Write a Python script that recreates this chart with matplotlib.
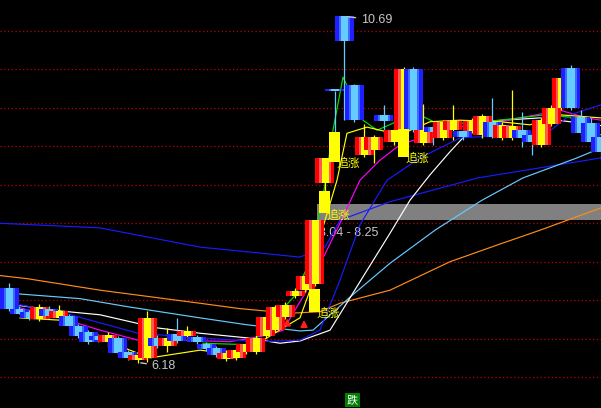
import matplotlib.pyplot as plt
from matplotlib.patches import Rectangle

plt.rcParams['font.family'] = ['Liberation Sans', 'Noto Sans CJK SC', 'DejaVu Sans']

# ---- candles (index 0 = leftmost visible bar) ----
opens = [7.16, 6.89, 6.85, 6.76, 6.89, 6.77, 6.80, 6.67, 6.59, 6.53,
         6.46, 6.51, 6.33, 6.22, 6.25, 6.51, 6.41, 6.56, 6.53, 6.52,
         6.43, 6.38, 6.24, 6.25, 6.33, 6.33, 6.54, 6.61, 6.78, 7.06,
         7.13, 7.21, 8.52, 9.72, 10.69, 9.80, 8.89, 8.95, 9.41, 9.06,
         9.21, 10.01, 9.04, 9.25, 9.11, 9.21, 9.20, 9.20, 9.15, 9.32,
         9.11, 9.11, 9.21, 9.15, 9.02, 9.29, 9.50, 10.02, 9.38, 9.30,
         9.12]
highs = [7.22, 6.92, 6.87, 6.95, 6.93, 6.94, 6.82, 6.69, 6.61, 6.56,
         6.59, 6.54, 6.35, 6.31, 6.86, 6.55, 6.64, 6.77, 6.66, 6.55,
         6.46, 6.40, 6.35, 6.38, 6.48, 6.55, 6.82, 6.94, 6.98, 7.16,
         7.35, 8.04, 8.85, 9.72, 10.69, 9.81, 9.29, 9.15, 9.54, 9.24,
         10.03, 10.03, 9.55, 9.28, 9.34, 9.54, 9.30, 9.37, 9.42, 9.63,
         9.32, 9.73, 9.45, 9.21, 9.37, 9.54, 9.92, 10.06, 9.47, 9.37,
         9.15]
lows = [6.86, 6.82, 6.74, 6.73, 6.77, 6.74, 6.64, 6.51, 6.43, 6.46,
        6.38, 6.29, 6.22, 6.18, 6.20, 6.38, 6.33, 6.44, 6.50, 6.43,
        6.34, 6.26, 6.21, 6.22, 6.30, 6.30, 6.51, 6.59, 6.76, 7.03,
        7.11, 7.19, 8.25, 9.19, 9.34, 9.32, 8.86, 8.78, 9.17, 9.02,
        9.19, 9.19, 9.02, 9.02, 9.08, 9.08, 9.08, 9.17, 9.11, 9.11,
        9.08, 9.08, 8.99, 8.89, 8.99, 9.26, 9.47, 9.47, 9.15, 9.06,
        8.82]
closes = [6.89, 6.82, 6.77, 6.91, 6.80, 6.86, 6.67, 6.54, 6.46, 6.48,
          6.55, 6.31, 6.25, 6.29, 6.77, 6.41, 6.51, 6.47, 6.60, 6.46,
          6.37, 6.29, 6.31, 6.35, 6.43, 6.51, 6.78, 6.91, 6.94, 7.12,
          7.32, 8.04, 8.85, 9.72, 10.37, 9.34, 9.12, 9.12, 9.33, 9.21,
          10.01, 9.21, 9.21, 9.19, 9.32, 9.33, 9.12, 9.33, 9.40, 9.12,
          9.28, 9.27, 9.11, 9.06, 9.34, 9.50, 9.89, 9.50, 9.17, 9.06,
          8.93]

# ---- moving average lines, read as (bar index, price) points ----
ma_orange = [(-0.96, 7.32), (1.78, 7.28), (9.19, 7.13), (19.34, 6.96), (23.4, 6.89),
             (28.48, 6.83), (31.52, 6.85), (33.55, 6.96), (38.63, 7.13), (44.72, 7.50),
             (49.8, 7.73), (53.86, 7.91), (60.05, 8.20)]
ma_lightblue = [(-0.96, 7.13), (1.07, 7.08), (7.16, 7.02), (12.23, 6.91), (19.34, 6.77),
                (24.11, 6.68), (29.49, 6.60), (30.81, 6.61), (34.57, 7.04), (38.63, 7.48),
                (43.2, 7.91), (47.97, 8.30), (52.13, 8.59), (57.62, 8.85), (60.05, 8.98)]
ma_blue_long = [(-0.96, 8.00), (9.19, 7.94), (19.34, 7.69), (29.49, 7.56), (32.03, 7.69),
                (33.55, 8.04), (38.63, 8.28), (47.56, 8.59), (60.05, 8.85)]
ma_blue = [(1.07, 6.94), (5.63, 6.83), (13.05, 6.57), (19.34, 6.51), (25.43, 6.46),
           (29.49, 6.48), (31.52, 6.61), (33.55, 7.26), (35.58, 7.98), (38.33, 8.56),
           (41.68, 8.85), (45.74, 9.11), (49.8, 9.14), (54.57, 9.17), (56.9, 9.41),
           (60.05, 9.54)]
ma_magenta = [(1.07, 6.90), (5.13, 6.77), (9.19, 6.61), (13.05, 6.48), (17.31, 6.48),
              (22.39, 6.46), (26.45, 6.55), (27.77, 6.61), (30.51, 7.20), (33.55, 8.00),
              (35.58, 8.56), (37.61, 8.82), (39.64, 9.02), (44.72, 9.24), (49.8, 9.32),
              (55.89, 9.47), (58.63, 9.37), (60.05, 9.34)]
ma_white = [(1.07, 6.93), (5.13, 6.86), (9.19, 6.81), (12.94, 6.70), (14.97, 6.64),
            (19.34, 6.57), (24.11, 6.51), (27.46, 6.44), (29.49, 6.47), (32.54, 6.61),
            (35.58, 7.24), (38.63, 7.87), (40.66, 8.30), (42.69, 8.63), (44.72, 8.93),
            (46.75, 9.21), (48.78, 9.33), (53.86, 9.37), (56.9, 9.32), (60.05, 9.27)]
ma_yellow = [(1.07, 6.77), (5.13, 6.74), (9.19, 6.51), (12.23, 6.35), (14.27, 6.25),
             (19.34, 6.35), (23.4, 6.29), (27.77, 6.64), (29.49, 6.77), (30.51, 7.13),
             (31.83, 7.95), (33.25, 8.56), (34.26, 9.17), (36.29, 9.25), (39.64, 9.15),
             (42.69, 9.32), (45.74, 9.34), (49.8, 9.32), (52.84, 9.28), (55.89, 9.41),
             (60.05, 9.37)]
ma_green = [(19.65, 6.44), (24.42, 6.42), (28.98, 7.06), (30.51, 7.52), (32.03, 8.50),
            (32.84, 9.21), (33.86, 9.90), (35.89, 9.34), (37.31, 9.21), (38.93, 9.30),
            (40.66, 9.47), (43.71, 9.28), (49.8, 9.34), (54.37, 9.41), (56.9, 9.38),
            (57.92, 9.25), (60.05, 9.15)]

# ---- "追涨" signal sticks (bar index, top, bottom) ----
signal_idx = [31, 32, 33, 40]
signal_top = [7.15, 8.42, 9.19, 9.23]
signal_bot = [6.85, 8.13, 8.80, 8.86]

# red buy arrows (bar index, tip price)
buy_idx = [28.2, 29.9]
buy_tip = [6.80, 6.78]

gap_low, gap_high = 8.04, 8.25
grid_prices = [6.0, 6.5, 7.0, 7.5, 8.0, 8.5, 9.0, 9.5, 10.0, 10.5]

# stripe layouts (pixel widths of the 19 px body) and colours
PX = 1 / 9.85
up_stripes = [(4, '#ff0000'), (2.5, '#ff5a5a'), (7, '#ffff00'), (2.5, '#ff5a5a'), (3, '#ff0000')]
dn_stripes = [(4, '#1f1fff'), (2, '#3a6cff'), (7.5, '#66ccff'), (2, '#3a6cff'), (3.5, '#1f1fff')]

fig = plt.figure(figsize=(6.01, 4.08), dpi=100)
fig.patch.set_facecolor('black')
ax = fig.add_axes([0, 0, 1, 1])
ax.set_facecolor('black')
ax.set_xlim(-0.964, 60.05)
ax.set_ylim(5.598, 10.903)
ax.axis('off')

# dotted grid
ax.hlines(grid_prices, -1, 61, colors='#c00000', linestyles=(0, (1, 2)), lw=0.9, zorder=1)

# unfilled gap band
ax.add_patch(Rectangle((31.22, gap_low), 40, gap_high - gap_low,
                       facecolor='#808080', edgecolor='none', zorder=2))
ax.text(31.4, 7.87, '8.04 - 8.25', color='#c8c8c8', fontsize=9, va='center', ha='left', zorder=3)

# moving averages
for pts, col in [(ma_blue_long, '#1a1aff'), (ma_orange, '#ff8c1a'), (ma_lightblue, '#66ccff'),
                 (ma_white, '#ffffff'), (ma_magenta, '#ff00ff'), (ma_blue, '#1a1aff'),
                 (ma_green, '#00e000'), (ma_yellow, '#ffff00')]:
    xs = [p[0] for p in pts]
    ys = [p[1] for p in pts]
    ax.plot(xs, ys, color=col, lw=0.85, zorder=4)

# candles, later bars on top
for i in range(len(opens)):
    o, h, l, c = opens[i], highs[i], lows[i], closes[i]
    z = 10 + i * 0.01
    up = c > o
    ax.vlines(i, l, h, colors='#ffff00' if up else '#66ccff', lw=0.9, zorder=z)
    lo, hi = min(o, c), max(o, c)
    if hi - lo < 0.02:
        hi = lo + 0.02
    x = i - 9.5 * PX
    for w, col in (up_stripes if up else dn_stripes):
        ax.add_patch(Rectangle((x, lo), w * PX, hi - lo, facecolor=col,
                               edgecolor='none', zorder=z))
        x += w * PX

# signal sticks and labels
for k, i in enumerate(signal_idx):
    ax.add_patch(Rectangle((i - 5.5 * PX, signal_bot[k]), 11 * PX, signal_top[k] - signal_bot[k],
                           facecolor='#ffff00', edgecolor='none', zorder=11))
    ax.text(i + 0.15, signal_bot[k] - 0.02, '追涨', color='#ffff00', fontsize=8.5,
            family=['Noto Sans CJK SC', 'DejaVu Sans'], ha='left', va='center', zorder=12)

# high / low markers
ax.annotate('10.69', xy=(34.05, 10.69), xytext=(35.7, 10.64), color='#c8c8c8', fontsize=9,
            va='center', zorder=12,
            arrowprops=dict(arrowstyle='-', color='#c8c8c8', lw=1))
ax.annotate('6.18', xy=(13.05, 6.19), xytext=(14.45, 6.14), color='#c8c8c8', fontsize=9,
            va='center', zorder=12,
            arrowprops=dict(arrowstyle='-', color='#c8c8c8', lw=1))

# red buy arrows
for bx, by in zip(buy_idx, buy_tip):
    ax.annotate('', xy=(bx, by), xytext=(bx, by - 0.16),
                arrowprops=dict(arrowstyle='-|>', color='#ff2020', lw=1.2), zorder=12)

# sell tag at the bottom
ax.text(34.82, 5.70, '跌', color='white', fontsize=8, ha='center', va='center',
        family=['Noto Sans CJK SC', 'DejaVu Sans'], zorder=12,
        bbox=dict(boxstyle='square,pad=0.15', facecolor='#008000', edgecolor='none'))

fig.savefig('out.png', dpi=100, facecolor='black')
